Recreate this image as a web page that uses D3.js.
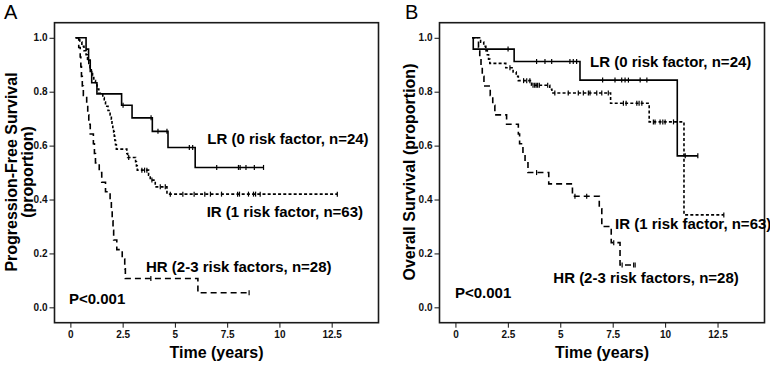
<!DOCTYPE html>
<html>
<head>
<meta charset="utf-8">
<script src="https://d3js.org/d3.v7.min.js"></script>
<style>
  body { margin: 0; background: #fff; }
  svg { display: block; font-family: "Liberation Sans", Arial, sans-serif; }
  .tick text { font-size: 10px; font-weight: bold; fill: #111; }
  .tick line { stroke: #111; }
  .note { font-size: 15px; font-weight: bold; fill: #000; }
  .title { font-size: 16px; font-weight: bold; fill: #000; }
</style>
</head>
<body>
<script>
// Axis ticks
const xTicks = [0, 2.5, 5, 7.5, 10, 12.5];
const yTicks = [0, 0.2, 0.4, 0.6, 0.8, 1.0];

// Panel A: progression-free survival (step times, survival after step, censor times)
const pfsLrTime = [0.25, 0.75, 0.87, 0.95, 1.02, 1.27, 2.45, 2.95, 3.92, 4.67, 5.97];
const pfsLrSurv = [1.0, 0.958, 0.917, 0.875, 0.833, 0.792, 0.75, 0.703, 0.653, 0.593, 0.519];
const pfsLrCens = [2.52, 3.86, 4.19, 4.62, 5.69, 5.85, 7.0, 8.04, 8.12, 8.4, 8.8, 9.24];

const pfsIrTime = [0.25, 0.45, 0.55, 0.65, 0.75, 0.82, 0.88, 0.94, 1.0, 1.06, 1.12, 1.2, 1.28, 1.36,
  1.55, 1.62, 1.68, 1.8, 1.9, 1.96, 1.99, 2.03, 2.07, 2.1, 2.13, 2.16, 2.2, 2.7, 2.74, 3.12, 3.16,
  3.2, 3.74, 3.82, 4.06, 4.62];
const pfsIrSurv = [1.0, 0.984, 0.968, 0.952, 0.937, 0.921, 0.905, 0.889, 0.873, 0.857, 0.841, 0.825,
  0.81, 0.794, 0.778, 0.762, 0.746, 0.73, 0.714, 0.698, 0.683, 0.667, 0.651, 0.635, 0.619, 0.603,
  0.587, 0.571, 0.556, 0.54, 0.525, 0.509, 0.49, 0.472, 0.447, 0.42];
const pfsIrCens = [2.79, 3.42, 3.55, 3.66, 3.9, 4.3, 4.54, 4.78, 5.38, 5.92, 6.43, 6.7, 7.23, 8.0,
  8.09, 8.52, 8.76, 8.86, 9.08, 12.77];

const pfsHrTime = [0.25, 0.4, 0.47, 0.5, 0.53, 0.57, 0.62, 0.78, 0.83, 0.88, 0.95, 1.1, 1.15, 1.2,
  1.38, 1.5, 1.68, 1.9, 1.96, 2.0, 2.04, 2.07, 2.22, 2.48, 2.6, 2.63, 6.1];
const pfsHrSurv = [1.0, 0.964, 0.929, 0.893, 0.857, 0.821, 0.786, 0.75, 0.714, 0.679, 0.643, 0.607,
  0.571, 0.536, 0.5, 0.464, 0.429, 0.393, 0.357, 0.321, 0.286, 0.25, 0.214, 0.179, 0.143, 0.107, 0.054];
const pfsHrCens = [3.85, 8.55];

// Panel B: overall survival
const osLrTime = [0.8, 0.85, 2.8, 5.94, 10.58];
const osLrSurv = [1.0, 0.958, 0.912, 0.843, 0.562];
const osLrCens = [2.51, 3.87, 4.27, 4.59, 5.46, 5.62, 5.78, 7.02, 7.61, 7.93, 8.09, 8.25, 8.81,
  9.13, 10.96, 11.56];

const osIrTime = [0.8, 1.2, 1.35, 1.45, 1.52, 1.58, 1.64, 2.4, 2.75, 2.9, 3.0, 3.63, 4.5, 4.6,
  7.4, 9.24, 10.9];
const osIrSurv = [1.0, 0.984, 0.968, 0.952, 0.937, 0.921, 0.905, 0.889, 0.873, 0.857, 0.841, 0.824,
  0.809, 0.795, 0.757, 0.688, 0.343];
const osIrCens = [2.6, 3.25, 3.4, 3.55, 3.7, 3.78, 3.85, 3.92, 4.0, 4.4, 4.74, 5.38, 5.86, 6.1,
  6.34, 6.42, 6.74, 6.98, 7.29, 8.01, 8.14, 8.65, 8.76, 8.89, 9.44, 9.52, 9.76, 9.89, 10.0, 10.4, 12.8];

const osHrTime = [0.8, 1.1, 1.16, 1.22, 1.28, 1.36, 1.66, 1.78, 1.88, 2.44, 3.0, 3.06, 3.22, 3.32,
  3.46, 4.45, 5.58, 6.86, 6.98, 7.43, 7.85];
const osHrSurv = [1.0, 0.964, 0.929, 0.893, 0.857, 0.821, 0.786, 0.75, 0.714, 0.679, 0.643, 0.607,
  0.571, 0.536, 0.5, 0.458, 0.412, 0.366, 0.3, 0.24, 0.157];
const osHrCens = [3.87, 5.7, 6.26, 7.55, 7.95, 8.5, 8.57];

const groupLabels = ["LR (0 risk factor, n=24)", "IR (1 risk factor, n=63)", "HR (2-3 risk factors, n=28)"];

const W = 770, H = 369;
const plotTop = 22.7, plotBottom = 322.7;

const svg = d3.select("body").append("svg").attr("width", W).attr("height", H);

// line styles per group
const dashes = [null, "3,2.2", "6,4"];

function survAt(time, surv, t) {
  let v = surv[0];
  for (let i = 0; i < time.length; i++) if (time[i] <= t) v = surv[i];
  return v;
}

function drawPanel(p) {
  const x = d3.scaleLinear().domain([-0.76, 14.74]).range([p.left, p.right]);
  const y = d3.scaleLinear().domain([-0.057, 1.056]).range([plotBottom, plotTop]);
  const g = svg.append("g");

  // axes
  g.append("g")
    .attr("transform", `translate(${p.left},0)`)
    .call(d3.axisLeft(y).tickValues(yTicks).tickFormat(d3.format(".1f")).tickSize(5).tickSizeOuter(0).tickPadding(2))
    .call((a) => a.select(".domain").remove());

  g.append("g")
    .attr("transform", `translate(0,${plotBottom})`)
    .call(d3.axisBottom(x).tickValues(xTicks).tickFormat((d) => String(d)).tickSize(5).tickSizeOuter(0))
    .call((a) => a.select(".domain").remove());

  // frame
  g.append("rect")
    .attr("x", p.left).attr("y", plotTop)
    .attr("width", p.right - p.left).attr("height", plotBottom - plotTop)
    .attr("fill", "none").attr("stroke", "#1a1a1a").attr("stroke-width", 1.6);

  const line = d3.line().x((d) => x(d[0])).y((d) => y(d[1])).curve(d3.curveStepAfter);

  p.curves.forEach((c, k) => {
    const pts = c.time.map((t, i) => [t, c.surv[i]]);
    const end = d3.max(c.cens);
    pts.push([end, c.surv[c.surv.length - 1]]);

    g.append("path")
      .datum(pts)
      .attr("d", line)
      .attr("fill", "none")
      .attr("stroke", "#000")
      .attr("stroke-width", 1.6)
      .attr("stroke-dasharray", dashes[k]);

    g.selectAll(null)
      .data(c.cens)
      .enter()
      .append("line")
      .attr("x1", (d) => x(d)).attr("x2", (d) => x(d))
      .attr("y1", (d) => y(survAt(c.time, c.surv, d)) - 2.5)
      .attr("y2", (d) => y(survAt(c.time, c.surv, d)) + 2.5)
      .attr("stroke", "#000")
      .attr("stroke-width", 1.2);
  });

  // group labels and p-value
  p.notes.forEach((n, i) => {
    g.append("text").attr("class", "note").attr("x", n[0]).attr("y", n[1]).text(groupLabels[i]);
  });
  g.append("text").attr("class", "note").attr("x", p.pval[0]).attr("y", p.pval[1]).text("P<0.001");

  // axis titles
  g.append("text").attr("class", "title")
    .attr("x", (p.left + p.right) / 2).attr("y", 358)
    .attr("text-anchor", "middle").text("Time (years)");

  p.yTitle.forEach((t) => {
    g.append("text").attr("class", "title")
      .attr("transform", `translate(${t[1]},${172}) rotate(-90)`)
      .attr("text-anchor", "middle").text(t[0]);
  });

  g.append("text").attr("x", p.tag[1]).attr("y", 18.5)
    .style("font-size", "20px").text(p.tag[0]);
}

drawPanel({
  left: 54.5, right: 378.5,
  curves: [
    { time: pfsLrTime, surv: pfsLrSurv, cens: pfsLrCens },
    { time: pfsIrTime, surv: pfsIrSurv, cens: pfsIrCens },
    { time: pfsHrTime, surv: pfsHrSurv, cens: pfsHrCens },
  ],
  notes: [[207.3, 144], [206.7, 217.3], [146, 271.7]],
  pval: [69, 303.5],
  yTitle: [["Progression-Free Survival", 17], ["(proportion)", 32.5]],
  tag: ["A", 4],
});

drawPanel({
  left: 439.5, right: 764.5,
  curves: [
    { time: osLrTime, surv: osLrSurv, cens: osLrCens },
    { time: osIrTime, surv: osIrSurv, cens: osIrCens },
    { time: osHrTime, surv: osHrSurv, cens: osHrCens },
  ],
  notes: [[590, 66.7], [615, 229], [553.3, 282.5]],
  pval: [455, 297.5],
  yTitle: [["Overall Survival (proportion)", 414.5]],
  tag: ["B", 405],
});
</script>
</body>
</html>
